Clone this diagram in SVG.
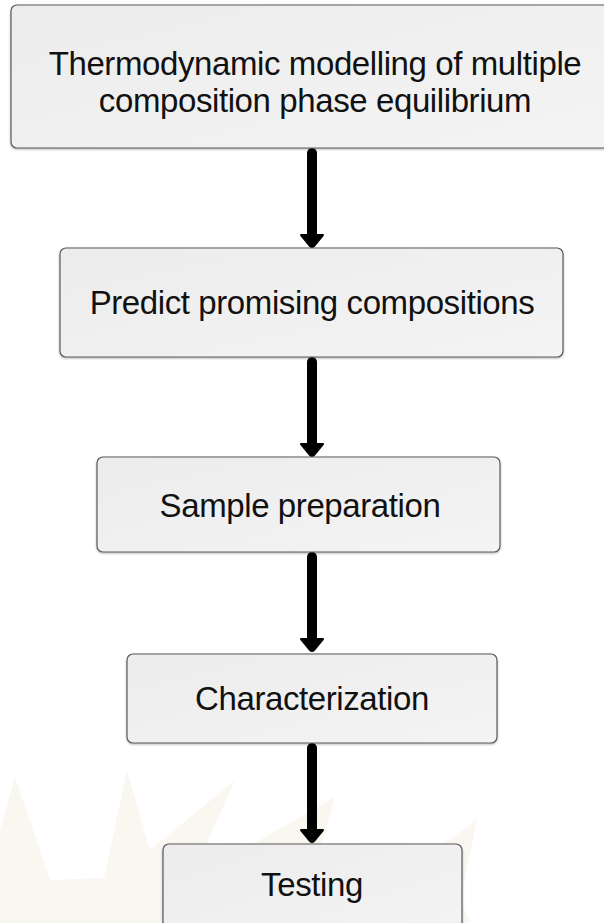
<svg xmlns="http://www.w3.org/2000/svg" width="604" height="923" viewBox="0 0 604 923">
<defs>
<linearGradient id="boxfill" x1="0" y1="0" x2="1" y2="1">
<stop offset="0" stop-color="#ececec"/>
<stop offset="1" stop-color="#f4f4f4"/>
</linearGradient>
<filter id="shadow" x="-5%" y="-5%" width="110%" height="115%">
<feGaussianBlur in="SourceAlpha" stdDeviation="1"/>
<feOffset dx="0" dy="1" result="b"/>
<feComponentTransfer><feFuncA type="linear" slope="0.3"/></feComponentTransfer>
<feMerge><feMergeNode/><feMergeNode in="SourceGraphic"/></feMerge>
</filter>
</defs>
<style>
.box{fill:url(#boxfill);stroke:#5a5a5a;stroke-width:1.2}
.lbl{font-family:"Liberation Sans",Arial,sans-serif;font-size:33px;letter-spacing:-0.4px;fill:#111;text-anchor:middle}
.arrow{stroke:#000;stroke-width:10;stroke-linecap:round;fill:none}
.head{fill:#000;stroke:#000;stroke-width:2;stroke-linejoin:round}
.wm{fill:#faf7f1}
</style>
<rect width="604" height="923" fill="#fff"/>
<g id="watermark">
<polygon class="wm" points="0,830 15,777 50,880 104,878 127,770 150,850 235,780 190,880 260,840 335,797 300,923 0,923"/>
<polygon class="wm" points="380,923 420,860 477,820 460,900 470,923"/>
</g>
<g id="connectors">
<line class="arrow" x1="312" y1="153" x2="312" y2="236"/>
<path class="head" d="M301,235 L323,235 L314,246 Q312,248 310,246 Z"/>
<line class="arrow" x1="312" y1="362" x2="312" y2="445"/>
<path class="head" d="M301,444 L323,444 L314,455 Q312,457 310,455 Z"/>
<line class="arrow" x1="312" y1="557" x2="312" y2="640"/>
<path class="head" d="M301,639 L323,639 L314,650 Q312,652 310,650 Z"/>
<line class="arrow" x1="312" y1="748" x2="312" y2="831"/>
<path class="head" d="M301,830 L323,830 L314,841 Q312,843 310,841 Z"/>
</g>
<g id="node1">
<rect class="box" x="11" y="5" width="610" height="143" rx="6" filter="url(#shadow)"/>
<text class="lbl" x="315" y="75">Thermodynamic modelling of multiple</text>
<text class="lbl" x="315" y="112">composition phase equilibrium</text>
</g>
<g id="node2">
<rect class="box" x="60" y="248" width="503" height="109" rx="6" filter="url(#shadow)"/>
<text class="lbl" x="312" y="314">Predict promising compositions</text>
</g>
<g id="node3">
<rect class="box" x="97" y="457" width="403" height="95" rx="6" filter="url(#shadow)"/>
<text class="lbl" x="300" y="517">Sample preparation</text>
</g>
<g id="node4">
<rect class="box" x="127" y="654" width="370" height="89" rx="6" filter="url(#shadow)"/>
<text class="lbl" x="312" y="710">Characterization</text>
</g>
<g id="node5">
<rect class="box" x="163" y="844" width="299" height="100" rx="6" filter="url(#shadow)"/>
<text class="lbl" x="312" y="896">Testing</text>
</g>
</svg>
